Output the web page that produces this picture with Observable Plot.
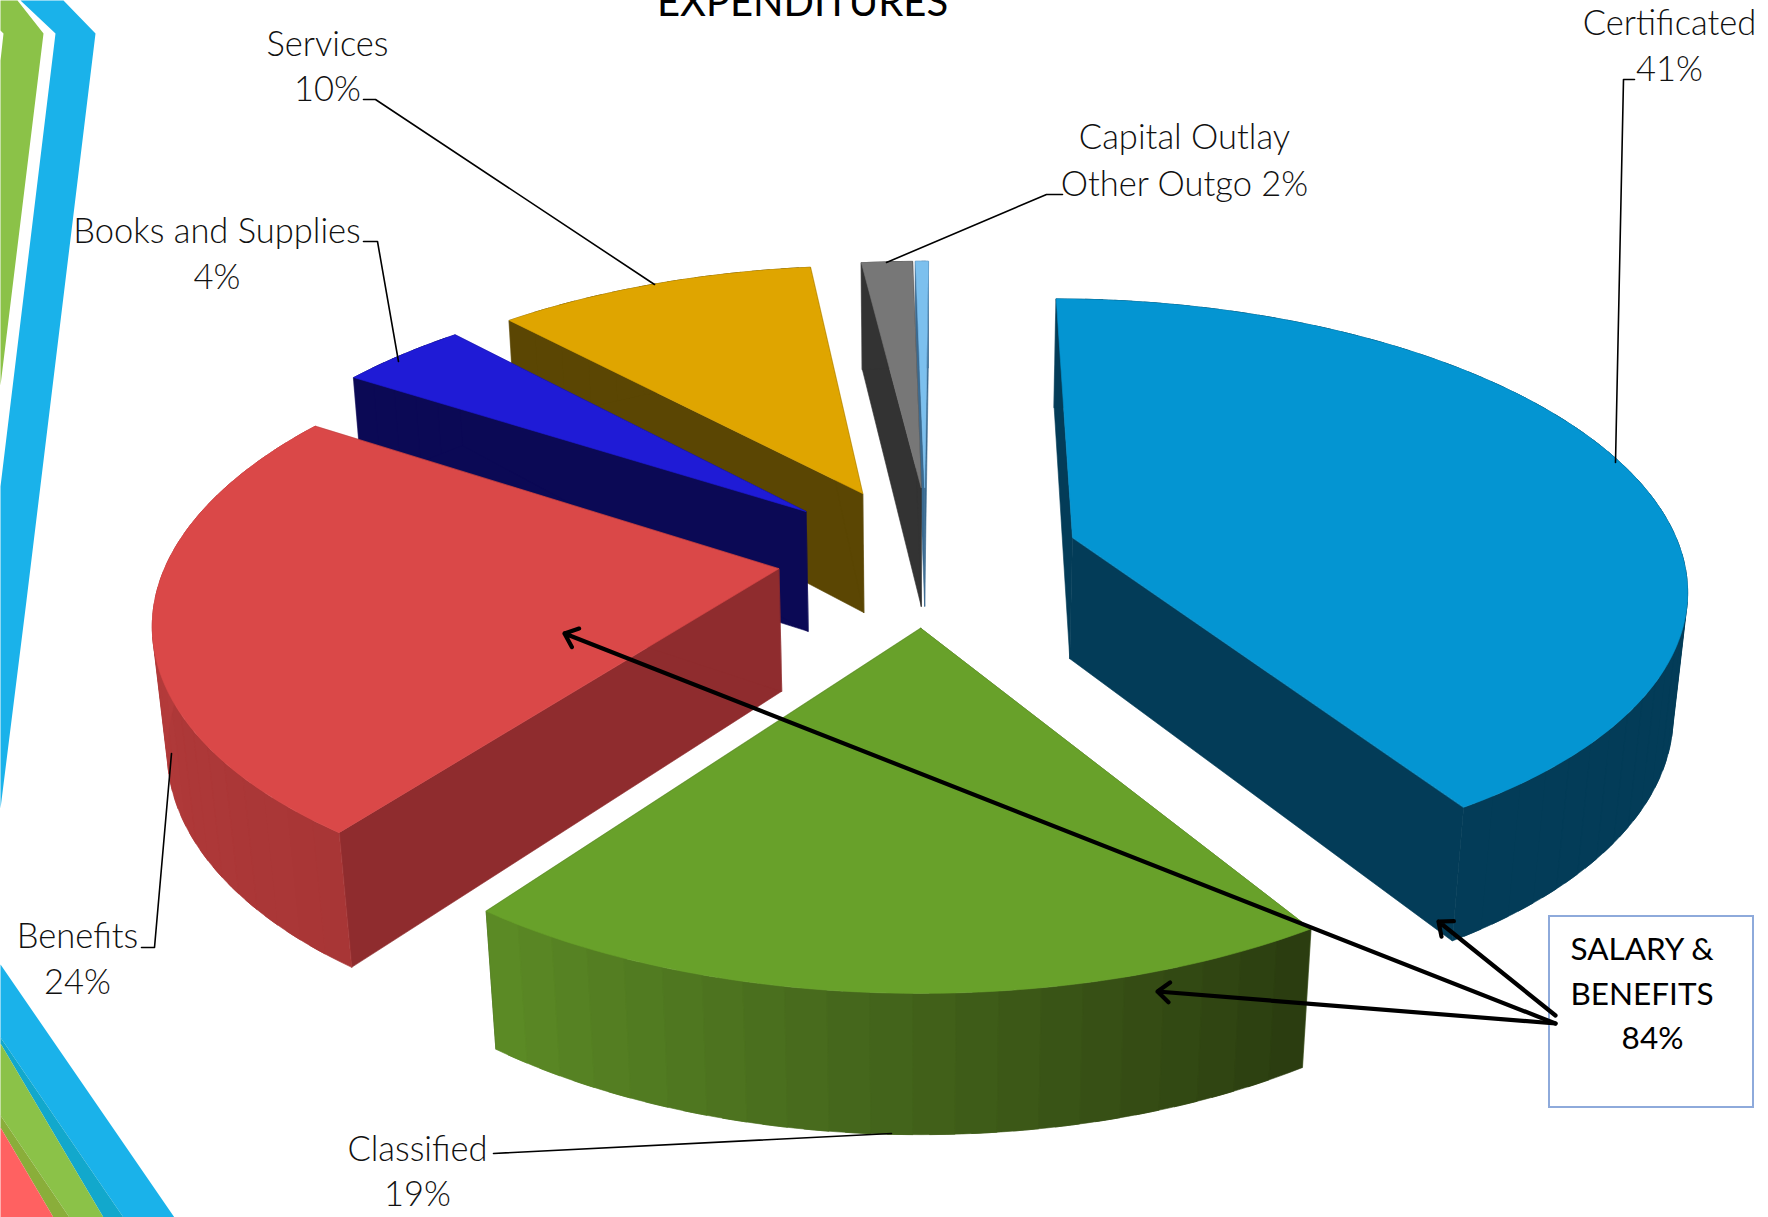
<!DOCTYPE html>
<html>
<head>
<meta charset="utf-8">
<script src="https://cdn.jsdelivr.net/npm/d3@7"></script>
<script src="https://cdn.jsdelivr.net/npm/@observablehq/plot@0.6"></script>
<style>
  html, body { margin: 0; padding: 0; background: #fff; overflow: hidden; }
  svg { display: block; }
</style>
</head>
<body>
<div id="chart"></div>
<script>
// Budget shares, in percent, clockwise from the back of the pie.
const categories = ["Certificated", "Classified", "Benefits", "Books and Supplies", "Services", "Capital Outlay", "Other Outgo"];
const shares = [41, 19, 24, 4, 10, 1.6, 0.4];

// Text shown next to the slices.
const titleText = "EXPENDITURES";
const labelLines = ["Certificated", "41%", "Classified", "19%", "Benefits", "24%", "Books and Supplies", "4%", "Services", "10%", "Capital Outlay", "Other Outgo 2%"];
const calloutLines = ["SALARY &", "BENEFITS", "84%"];

// Slice appearance.
const topColors = ["#0495d2", "#68a12a", "#da4848", "#1f1bd6", "#dfa500", "#777777", "#7cc0ee"];
const radialColors = ["#033c58", "#3c5a17", "#8f2c2e", "#0b0955", "#5b4603", "#333333", "#3a6a90"];
const wallFrom = ["#033c58", "#2b3d10", "#a83636", "#0b0955", "#5b4603", "#333333", "#3a6a90"];
const wallTo = ["#033c58", "#5b8a25", "#bc3e3e", "#0b0955", "#5b4603", "#333333", "#3a6a90"];
const explode = [0.25, 0.245, 0.24, 0.255, 0.255, 0.255, 0.255];
const sideShift = [0.003, 0.002, -0.003, -0.006, 0, 0.01, 0];
const paintOrder = [6, 5, 4, 3, 2, 0, 1];
const startAngle = 0.4 * Math.PI / 180;

// Perspective camera for the tilted pie, in page pixels.
const W = 1768, H = 1217;
const cam = {cx: 925, cy: 556, f: 610, k: 0.158, sinT: 0.4622, cosT: 0.8868, zk: 0.0823, depth: 0.23};
function project(X, Y, Z) {
  const w = 1 - cam.k * Y - cam.zk * Z;
  return [cam.cx + cam.f * X / w, cam.cy + cam.f * (Y * cam.sinT - Z * cam.cosT) / w];
}

// Cumulative angles come straight from the shares.
const total = d3.sum(shares);
const edges = [0, ...d3.cumsum(shares)].map((s) => startAngle + (s / total) * 2 * Math.PI);

function sliceGeometry(i) {
  const t0 = edges[i], t1 = edges[i + 1], tm = (t0 + t1) / 2;
  const ax = explode[i] * Math.sin(tm) + sideShift[i], ay = -explode[i] * Math.cos(tm);
  const rim = (t) => [ax + Math.sin(t), ay - Math.cos(t)];
  return {t0, t1, ax, ay, rim};
}

const faces = [];
function pushFace(face, color, pts) {
  for (const [px, py] of pts) faces.push({face, color, px, py});
}
for (const i of paintOrder) {
  const {t0, t1, ax, ay, rim} = sliceGeometry(i);
  const D = cam.depth;
  // Radial walls, hidden under the top face wherever they face away.
  for (const [n, t] of [[0, t0], [1, t1]]) {
    const [ex, ey] = rim(t);
    pushFace(`${i}-r${n}`, radialColors[i], [project(ax, ay, 0), project(ex, ey, 0), project(ex, ey, -D), project(ax, ay, -D)]);
  }
  // Curved wall in narrow strips; each strip runs under the next so no seam shows.
  const strips = Math.max(2, Math.round((t1 - t0) * 18));
  const shade = d3.interpolateRgb(wallFrom[i], wallTo[i]);
  const step = (t1 - t0) / strips;
  for (let s = 0; s < strips; s++) {
    const a = t0 + step * s, b = Math.min(t1, a + step * 1.6);
    const arc = d3.range(0, 5).map((q) => rim(a + (b - a) * (q / 4)));
    const upper = arc.map(([x, y]) => project(x, y, 0));
    const lower = arc.map(([x, y]) => project(x, y, -D)).reverse();
    pushFace(`${i}-w${s}`, shade(s / (strips - 1)), [...upper, ...lower]);
  }
  // Top face.
  const top = [project(ax, ay, 0)];
  const steps = Math.max(6, Math.round((t1 - t0) * 60));
  for (let s = 0; s <= steps; s++) {
    const [x, y] = rim(t0 + (t1 - t0) * (s / steps));
    top.push(project(x, y, 0));
  }
  pushFace(`${i}-t`, topColors[i], top);
}

// Slide theme ribbons along the left edge.
const ribbons = [
  {color: "#8bc248", pts: [[0, 0], [17, 0], [43, 33], [0, 385], [0, 60], [3, 33], [0, 30]]},
  {color: "#1ab2ea", pts: [[20, 0], [63, 0], [95, 33], [26, 600], [0, 808], [0, 486], [55, 33]]},
  {color: "#1ab2ea", pts: [[0, 964], [174, 1217], [123, 1217], [0, 1037]]},
  {color: "#12a8cc", pts: [[0, 1037], [123, 1217], [103, 1217], [0, 1043]]},
  {color: "#8bc248", pts: [[0, 1043], [103, 1217], [69, 1217], [0, 1115]]},
  {color: "#8aae3a", pts: [[0, 1115], [69, 1217], [53, 1217], [0, 1127]]},
  {color: "#ff6161", pts: [[0, 1127], [53, 1217], [0, 1217]]}
];
const ribbonRows = ribbons.flatMap((r, n) => r.pts.map(([px, py]) => ({n, color: r.color, px, py})));

// Placement of the labels, callouts and leaders.
const labelX = [1669, 1669, 417, 417, 77, 77, 216.5, 216.5, 327, 327, 1184, 1184];
const labelY = [23, 69, 1149, 1194, 936, 982, 231, 277, 44, 89, 137, 184];
const labelRows = labelLines.map((text, i) => ({text, x: labelX[i], y: labelY[i]}));
const calloutLeft = [
  {text: calloutLines[0], x: 1570, y: 949},
  {text: calloutLines[1], x: 1570, y: 994}
];
const calloutCentre = [{text: calloutLines[2], x: 1652, y: 1038}];
const leaders = [
  [[363, 99], [375, 99], [654, 284]],
  [[363, 241], [377, 241], [398, 361]],
  [[1062, 194], [1046, 194], [886, 262]],
  [[1634, 79], [1623, 79], [1615, 462]],
  [[141, 947], [154, 947], [171, 753]],
  [[493, 1153], [891, 1133]]
];
const leaderRows = leaders.flatMap((l, n) => l.map(([px, py]) => ({n, px, py})));
const arrows = [
  {x1: 1555, y1: 1023, x2: 564, y2: 633},
  {x1: 1555, y1: 1023, x2: 1157, y2: 991},
  {x1: 1555, y1: 1015, x2: 1438, y2: 921}
];

const font = "Lato, 'Noto Sans', sans-serif";
const plot = Plot.plot({
  width: W,
  height: H,
  margin: 0,
  style: {background: "#fff", overflow: "hidden"},
  x: {axis: null, domain: [0, W], range: [0, W]},
  y: {axis: null, domain: [0, H], range: [0, H]},
  color: {type: "identity"},
  marks: [
    Plot.line(ribbonRows, {x: "px", y: "py", z: "n", fill: "color", stroke: "none", curve: "linear-closed"}),
    Plot.line(faces, {x: "px", y: "py", z: "face", fill: "color", stroke: "color", strokeWidth: 0.6, curve: "linear-closed"}),
    Plot.line(leaderRows, {x: "px", y: "py", z: "n", stroke: "#000", strokeWidth: 1.6, curve: "linear"}),
    Plot.rect([{x1: 1549, x2: 1753, y1: 916, y2: 1107}], {x1: "x1", x2: "x2", y1: "y1", y2: "y2", fill: "#fff", stroke: "#8eaadb", strokeWidth: 2}),
    Plot.arrow(arrows, {x1: "x1", y1: "y1", x2: "x2", y2: "y2", stroke: "#000", strokeWidth: 4.2, bend: 0, headLength: 5.5, headAngle: 80}),
    Plot.text([titleText], {x: () => 802, y: () => 3, text: (d) => d, fontSize: 40, fontFamily: font, fill: "#000", textAnchor: "middle", lineAnchor: "middle"}),
    Plot.text(labelRows, {x: "x", y: "y", text: "text", fontSize: 34.5, fontFamily: font, fontWeight: 300, fill: "#111", textAnchor: "middle", lineAnchor: "middle"}),
    Plot.text(calloutLeft, {x: "x", y: "y", text: "text", textAnchor: "start", fontSize: 31.5, fontFamily: font, fill: "#000", lineAnchor: "middle"}),
    Plot.text(calloutCentre, {x: "x", y: "y", text: "text", textAnchor: "middle", fontSize: 31.5, fontFamily: font, fill: "#000", lineAnchor: "middle"})
  ]
});
document.getElementById("chart").append(plot);
</script>
</body>
</html>
